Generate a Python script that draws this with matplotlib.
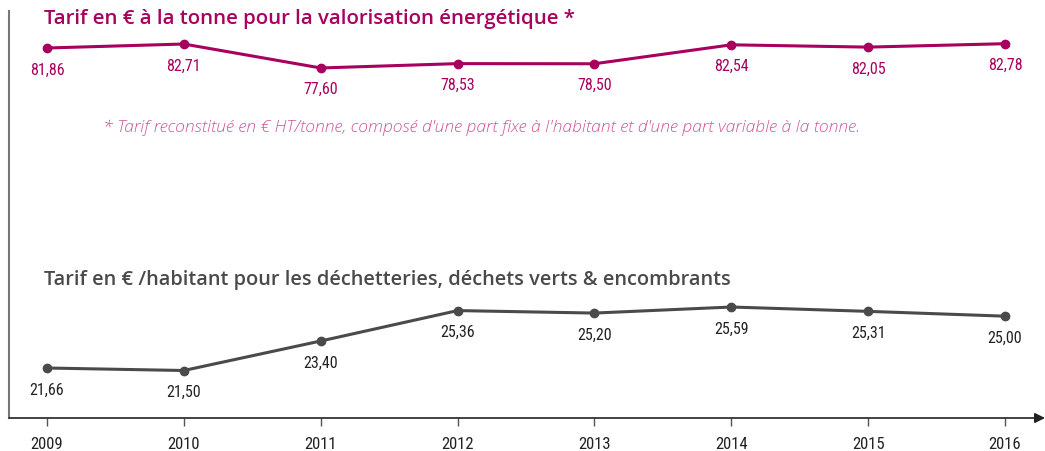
import matplotlib
matplotlib.use("Agg")
import matplotlib.pyplot as plt
from matplotlib import font_manager as fm

years = [2009, 2010, 2011, 2012, 2013, 2014, 2015, 2016]
tonne_values = [81.86, 82.71, 77.60, 78.53, 78.50, 82.54, 82.05, 82.78]
habitant_values = [21.66, 21.50, 23.40, 25.36, 25.20, 25.59, 25.31, 25.00]

title_top = "Tarif en € à la tonne pour la valorisation énergétique *"
title_bottom = "Tarif en € /habitant pour les déchetteries, déchets verts & encombrants"
footnote = ("* Tarif reconstitué en € HT/tonne, composé d'une part fixe à l'habitant "
            "et d'une part variable à la tonne.")

MAGENTA = "#A8005E"
PINK = "#D0559C"
GRAY = "#4A4A4A"

names = {f.name for f in fm.fontManager.ttflist}
def pick(*cands):
    for c in cands:
        if c in names:
            return c
    return "DejaVu Sans"

num_font = pick("Liberation Sans Narrow", "Roboto Condensed", "Roboto")
title_font = pick("Open Sans", "Lato", "DejaVu Sans")

def fmt(v):
    return f"{v:.2f}".replace(".", ",")

W, H = 1045, 452
fig = plt.figure(figsize=(W / 100, H / 100), dpi=100)

left, right, top, bottom = 9, 1045, 12, 419
ax = fig.add_axes([left / W, 1 - bottom / H, (right - left) / W, (bottom - top) / H])
ax.patch.set_alpha(0)

# x scale: 2009 at px 47, 2016 at px 1005
ppy = (1005 - 47) / 7
ax.set_xlim(2009 - (47 - left) / ppy, 2016 + (right - 1005) / ppy)
ax.set_ylim(18.44, 44.66)

ax2 = ax.twinx()
ax2.set_ylim(2.96, 89.75)
for a in (ax, ax2):
    for s in a.spines.values():
        s.set_visible(False)
ax2.set_yticks([])
ax.set_yticks([])

# axes lines
ax.plot([0, 0], [0, 1], transform=ax.transAxes, color="#777777", lw=1.5, clip_on=False)
ax.annotate("", xy=(1.0, 0), xytext=(0, 0), xycoords="axes fraction",
            arrowprops=dict(arrowstyle="-|>,head_length=0.6,head_width=0.3",
                            color="#222222", lw=1.2, shrinkA=0, shrinkB=0))

ax.set_xticks(years)
ax.set_xticklabels([str(y) for y in years])
ax.tick_params(axis="x", length=6, width=1, color="#555555", pad=7,
               labelsize=12, labelcolor="#222222")
for lab in ax.get_xticklabels():
    lab.set_fontfamily(num_font)

# bottom series
ax.plot(years, habitant_values, color=GRAY, lw=2.2, marker="o", ms=6, zorder=3)
for x, v in zip(years, habitant_values):
    ax.annotate(fmt(v), (x, v), xytext=(0, -15), textcoords="offset points",
                ha="center", va="center", color="#222222", fontsize=11.5,
                family=num_font)

# top series
ax2.plot(years, tonne_values, color=MAGENTA, lw=2.2, marker="o", ms=6, zorder=3)
for x, v in zip(years, tonne_values):
    ax2.annotate(fmt(v), (x, v), xytext=(0, -15), textcoords="offset points",
                 ha="center", va="center", color=MAGENTA, fontsize=11.5,
                 family=num_font)

fig.text(44 / W, 1 - 19 / H, title_top, color=MAGENTA, fontsize=14.7,
         fontweight="semibold", family=title_font, ha="left", va="center")
fig.text(44 / W, 1 - 280 / H, title_bottom, color=GRAY, fontsize=14.4,
         fontweight="semibold", family=title_font, ha="left", va="center")
fig.text(103 / W, 1 - 128 / H, footnote, color=PINK, fontsize=12.6,
         style="italic", fontweight="light", family=title_font, ha="left", va="center")

fig.savefig("out.png", dpi=100)
